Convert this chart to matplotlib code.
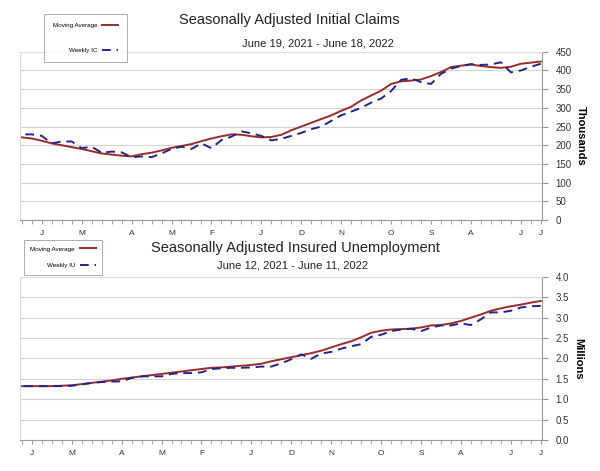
import numpy as np
import matplotlib.pyplot as plt
from matplotlib.ticker import FixedLocator, MultipleLocator

plt.rcParams['font.family'] = ['Liberation Sans', 'DejaVu Sans']

# weeks counted from the first week of each series (June 19, 2021 / June 12, 2021)
claims_ma = [424, 421, 418, 410, 407, 409, 412, 416, 413, 409, 396, 385, 376, 373,
             371, 364, 346, 333, 320, 303, 292, 280, 270, 260, 250, 240, 228, 222,
             221, 224, 228, 229, 224, 218, 211, 203, 198, 193, 186, 180, 176, 170,
             172, 175, 178, 184, 190, 195, 200, 205, 212, 218, 221]
claims_weekly = [418, 410, 400, 395, 422, 416, 415, 417, 412, 405, 391, 364, 369, 379,
                 375, 345, 325, 314, 300, 290, 280, 265, 250, 243, 233, 225, 217, 213,
                 225, 232, 237, 223, 214, 192, 205, 190, 196, 190, 178, 168, 170, 168,
                 181, 183, 180, 196, 192, 210, 210, 205, 225, 229, 229]
insured_ma = [3.41, 3.37, 3.32, 3.28, 3.23, 3.17, 3.08, 3.00, 2.92, 2.86, 2.82, 2.81,
              2.76, 2.73, 2.72, 2.71, 2.68, 2.63, 2.52, 2.42, 2.35, 2.27, 2.19, 2.13,
              2.08, 2.03, 1.98, 1.93, 1.87, 1.84, 1.82, 1.80, 1.78, 1.77, 1.74, 1.71,
              1.68, 1.65, 1.62, 1.59, 1.56, 1.53, 1.50, 1.46, 1.43, 1.40, 1.37, 1.34,
              1.33, 1.32, 1.32, 1.32, 1.32]
insured_weekly = [3.29, 3.28, 3.25, 3.17, 3.13, 3.13, 2.96, 2.82, 2.86, 2.81, 2.81, 2.76,
                  2.67, 2.73, 2.71, 2.67, 2.58, 2.53, 2.35, 2.30, 2.24, 2.16, 2.12, 1.99,
                  2.10, 1.98, 1.88, 1.80, 1.80, 1.78, 1.77, 1.77, 1.76, 1.74, 1.66, 1.64,
                  1.64, 1.62, 1.56, 1.56, 1.56, 1.52, 1.44, 1.43, 1.42, 1.40, 1.36, 1.33,
                  1.32, 1.32, 1.32, 1.32, 1.32]

month_labels = ['J', 'J', 'A', 'S', 'O', 'N', 'D', 'J', 'F', 'M', 'A', 'M', 'J']
claims_month_weeks = [0, 2, 7, 11, 15, 20, 24, 28, 33, 37, 41, 46, 50]
insured_month_weeks = [0, 3, 8, 12, 16, 21, 25, 29, 34, 38, 42, 47, 51]

ma_color = '#9a2b2b'
wk_color = '#23238c'
grid_color = '#d4d4d4'

fig = plt.figure(figsize=(6, 4.71), dpi=100)
ax1 = fig.add_axes([0.033, 0.533, 0.870, 0.357])
ax2 = fig.add_axes([0.033, 0.066, 0.870, 0.346])


def style(ax, ma, wk, month_weeks, ylim, step, fmt, ylabel, wk_label):
    x = np.arange(len(ma))
    ax.plot(x, ma, color=ma_color, lw=1.4, label='Moving Average')
    ax.plot(x, wk, color=wk_color, lw=1.4, ls=(0, (4.5, 3)), label='Weekly ' + wk_label)
    ax.set_xlim(len(ma) - 0.8, -0.1)
    ax.set_ylim(*ylim)
    ax.yaxis.tick_right()
    ax.yaxis.set_label_position('right')
    ticks = np.arange(ylim[0], ylim[1] + step / 2, step)
    ax.set_yticks(ticks)
    ax.set_yticklabels([fmt.format(t) for t in ticks], fontsize=7, color='#333333')
    ax.set_ylabel(ylabel, rotation=270, labelpad=10, fontsize=8, fontweight='bold')
    ax.grid(axis='y', color=grid_color, lw=0.8)
    ax.set_axisbelow(True)
    ax.xaxis.set_major_locator(FixedLocator(month_weeks))
    ax.set_xticklabels(month_labels, fontsize=6, color='#333333')
    ax.xaxis.set_minor_locator(MultipleLocator(1))
    ax.tick_params(axis='x', which='both', length=3, color='#999999', pad=4)
    ax.tick_params(axis='y', length=4, color='#999999', pad=6)
    for side in ['left', 'top']:
        ax.spines[side].set_color('#dddddd')
        ax.spines[side].set_linewidth(0.8)
    for side in ['right', 'bottom']:
        ax.spines[side].set_color('#999999')
        ax.spines[side].set_linewidth(0.8)


style(ax1, claims_ma, claims_weekly, claims_month_weeks, (0, 450), 50,
      '{:.0f}', 'Thousands', 'IC')
style(ax2, insured_ma, insured_weekly, insured_month_weeks, (0, 4.0), 0.5,
      '{:.1f}', 'Millions', 'IU')

fig.text(0.483, 0.957, 'Seasonally Adjusted Initial Claims', ha='center', va='center',
         fontsize=10.5, color='#222222')
fig.text(0.53, 0.908, 'June 19, 2021 - June 18, 2022', ha='center', va='center',
         fontsize=8, color='#222222')
fig.text(0.493, 0.473, 'Seasonally Adjusted Insured Unemployment', ha='center', va='center',
         fontsize=10.5, color='#222222')
fig.text(0.488, 0.437, 'June 12, 2021 - June 11, 2022', ha='center', va='center',
         fontsize=8, color='#222222')

leg1 = fig.legend(handles=ax1.get_lines(), loc='upper left', bbox_to_anchor=(0.068, 0.977),
                  fontsize=4.5, markerfirst=False, frameon=True, fancybox=False,
                  handlelength=2.5, labelspacing=3.2, borderpad=1.4)
leg1.get_frame().set_edgecolor('#888888')
leg1.get_frame().set_linewidth(0.6)
leg2 = fig.legend(handles=ax2.get_lines(), loc='upper left', bbox_to_anchor=(0.035, 0.497),
                  fontsize=4.5, markerfirst=False, frameon=True, fancybox=False,
                  handlelength=2.5, labelspacing=1.8, borderpad=1.0)
leg2.get_frame().set_edgecolor('#888888')
leg2.get_frame().set_linewidth(0.6)

fig.savefig('out.png', dpi=100)
